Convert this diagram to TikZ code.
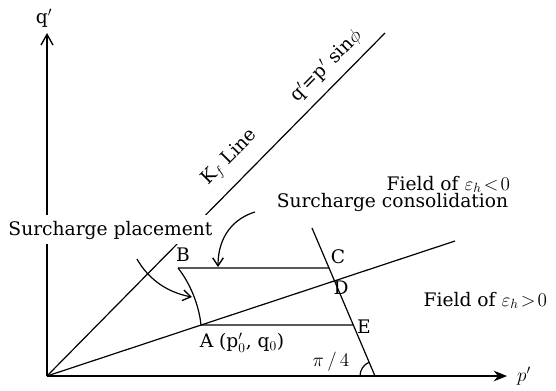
\documentclass[tikz,border=0pt]{standalone}
\usepackage{fontspec}
\setmainfont{DejaVu Serif}
\usetikzlibrary{arrows.meta}
\tikzset{every picture/.style={line width=0.9pt}}
\tikzset{lbl/.style={inner sep=0.75pt, font=\fontsize{14}{16}\selectfont},
  barb/.style={-{Straight Barb[length=6pt,width=8pt,line width=1pt]}}}

\begin{document}
\begin{tikzpicture}[x=0.75pt,y=0.75pt,yscale=-1,xscale=1]
\useasboundingbox (0,0) rectangle (556,390);

% Points
\coordinate (O) at (47,376);
\coordinate (Qtop) at (47,33);
\coordinate (Pend) at (507,376);
\coordinate (Ktop) at (385,33);
\coordinate (Dend) at (455,241);
\coordinate (Mtop) at (312,228);
\coordinate (Mfoot) at (375,376);
\coordinate (B) at (178,268);
\coordinate (A) at (201,325);
\coordinate (C) at (intersection of B--{(400,268)} and Mtop--Mfoot);
\coordinate (D) at (intersection of O--Dend and Mtop--Mfoot);
\coordinate (E) at (intersection of A--{(400,325)} and Mtop--Mfoot);

%Axes
\draw [-{Straight Barb[length=8pt,width=9pt,line width=1pt]}] (O) -- (Qtop) ;
\draw [-{Stealth[length=10pt,width=8pt]}] (O) -- (Pend) ;

%K_f line
\draw (O) -- (Ktop) ;
% Text Node
\node [lbl, rotate=45.4] (kfname) at (230,158) {K$_f$ Line};
% Text Node
\node [lbl, rotate=45.4] (kfeq) at (326,66) {q$'$=p$'$ sin$\phi$};

%Straight Lines
\draw (O) -- (Dend) ;
\draw (B) -- (C) ;
\draw (A) -- (E) ;
\draw (Mtop) -- (Mfoot) ;
%Curve B to A
\draw (B) .. controls (190,283) and (199,305) .. (A) ;
%Angle arc
\draw ([shift={(180:15)}]Mfoot) arc [start angle=180, end angle=247, radius=15] ;

% Text Node
\node [lbl, fill=white, inner sep=4pt, anchor=base] (place) at (110.5,235) {Surcharge placement};
% Text Node
\node [lbl, anchor=base] (consol) at (392.5,207) {Surcharge consolidation};

%Curved arrows
\coordinate (placeS) at (137,259);
\coordinate (placeT) at (192,297);
\draw [barb] (placeS) .. controls (147,277) and (165,292) .. (placeT) ;
\coordinate (consolS) at (255,212);
\coordinate (consolT) at (218,267);
\draw [barb] (consolS) .. controls (235,218) and (218,235) .. (consolT) ;

% Text Node
\node [lbl] (qlab) at (44,18) {q$'$};
% Text Node
\node [lbl] (plab) at (524,376) {$p'$};
% Text Node
\node [lbl] (Blab) at (183,255) {B};
% Text Node
\node [lbl] (Clab) at (338,257) {C};
% Text Node
\node [lbl] (Dlab) at (341,288) {D};
% Text Node
\node [lbl] (Elab) at (364,327) {E};
% Text Node
\node [lbl] (Alab) at (242,343) {A (p$'_0$, q$_0$)};
% Text Node
\node [lbl] (angle) at (331,362) {$\pi\,/\,4$};
% Text Node
\node [lbl, anchor=base west] (neg) at (385,190) {Field of $\varepsilon_h\!<\!0$};
% Text Node
\node [lbl, anchor=base west] (pos) at (422,306) {Field of $\varepsilon_h\!>\!0$};

\end{tikzpicture}
\end{document}
